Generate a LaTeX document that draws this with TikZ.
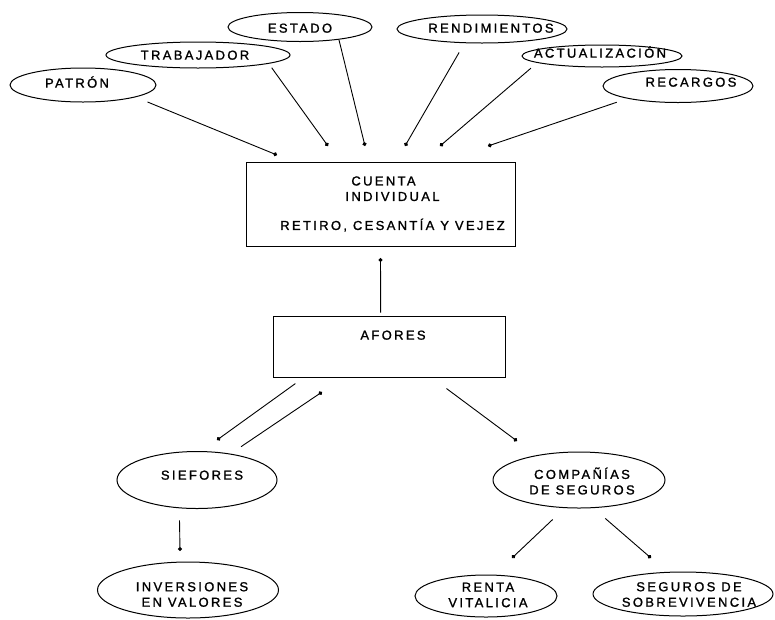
\documentclass[tikz,border=0pt]{standalone}
\usepackage{fontspec}
\setmainfont{Liberation Sans}
\newfontfamily\spaced{Liberation Sans}[LetterSpace=18,FakeBold=1.3]
\usetikzlibrary{shapes.geometric,arrows.meta,calc}
\begin{document}
\begin{tikzpicture}[x=1pt,y=-1pt,
  oval/.style={ellipse,draw,line width=1pt,inner sep=0pt},
  box/.style={rectangle,draw,line width=1pt,inner sep=0pt},
  one/.style={font=\spaced\fontsize{13}{15.5}\selectfont,inner sep=0pt,text height=9.3pt,text depth=0pt},
  two/.style={font=\spaced\fontsize{13}{15.5}\selectfont,inner sep=0pt,align=center},
  arr/.style={line width=0.9pt,-{Circle[length=4pt]}}
]
\useasboundingbox (0,0) rectangle (775,619);

% top ellipses
\node[oval,minimum width=146pt,minimum height=34pt,label={[one,xshift=-6pt,yshift=2pt]center:PATRÓN}] (patron) at (83,85) {};
\node[oval,minimum width=184pt,minimum height=26pt,label={[one,xshift=-3pt]center:TRABAJADOR}] (trab) at (198,55) {};
\node[oval,minimum width=144pt,minimum height=29pt,label={[one,yshift=-1pt]center:ESTADO}] (estado) at (300,27) {};
\node[oval,minimum width=170pt,minimum height=28pt,label={[one,xshift=9pt,yshift=1pt]center:RENDIMIENTOS}] (rend) at (482,29) {};
\node[oval,minimum width=160pt,minimum height=22pt,label={[one,xshift=-2pt,yshift=3pt]center:ACTUALIZACIÓN}] (actual) at (602,56) {};
\node[oval,minimum width=150pt,minimum height=33pt,label={[one,xshift=13pt,yshift=4pt]center:RECARGOS}] (recargos) at (678,86) {};

% boxes
\node[box,minimum width=269pt,minimum height=84pt,
  label={[two,xshift=12pt]center:CUENTA\hspace*{18pt}\\INDIVIDUAL\hspace*{14pt}\\[13.5pt]RETIRO, CESANTÍA Y VEJEZ}] (cuenta) at (380.5,204) {};
\node[box,minimum width=232pt,minimum height=61pt,label={[one,xshift=4pt,yshift=11.5pt]center:AFORES}] (afores) at (389,346.5) {};

% lower ellipses
\node[oval,minimum width=160pt,minimum height=57pt,label={[one,xshift=5pt,yshift=5pt]center:SIEFORES}] (siefores) at (197,480) {};
\node[oval,minimum width=172pt,minimum height=56pt,label={[two,xshift=3pt,yshift=-1pt]center:COMPAÑÍAS\\DE SEGUROS}] (companias) at (579,480) {};
\node[oval,minimum width=181pt,minimum height=56pt,label={[two,xshift=4pt,yshift=-4.5pt]center:INVERSIONES\\EN VALORES}] (inversiones) at (188,590) {};
\node[oval,minimum width=142pt,minimum height=42pt,label={[two,xshift=2pt,yshift=1pt]center:RENTA\\VITALICIA}] (renta) at (486,596) {};
\node[oval,minimum width=180pt,minimum height=44pt,label={[two,xshift=6pt,yshift=-0.5pt]center:SEGUROS DE\\SOBREVIVENCIA}] (seguros) at (683,594) {};

% arrow ends
\coordinate (d1) at (277,155);
\coordinate (d2) at (328,146);
\coordinate (d3) at (365,146);
\coordinate (d4) at (405,146);
\coordinate (d5) at (440,146);
\coordinate (d6) at (488,146);
\coordinate (d7) at (380.5,258);
\coordinate (d8) at (217,440);
\coordinate (d9) at (322,392);
\coordinate (d10) at (517,441);
\coordinate (d11) at (180,551);
\coordinate (d12) at (512,558);
\coordinate (d13) at (651,558);

% connectors
\draw[arr,shorten <=12.6pt] (patron.-13.7) -- (d1);
\draw[arr,shorten <=5pt] (trab.-7.8) -- (d2);
\draw[arr] (estado.-18) -- (d3);
\draw[arr,shorten <=10.7pt] (rend.219.7) -- (d4);
\draw[arr,shorten <=8.2pt] (actual.186) -- (d5);
\draw[arr,shorten <=11.2pt] (recargos.194.1) -- (d6);
\draw[arr,shorten <=3pt] (afores.105.6) -- (d7);
\draw[arr,shorten <=10.4pt] (afores.200.3) -- (d8);
\draw[arr,shorten <=12.5pt] (siefores.38.6) -- (d9);
\draw[arr,shorten <=18.5pt] (afores.-36.6) -- (d10);
\draw[arr,shorten <=12pt] (siefores.238.6) -- (d11);
\draw[arr,shorten <=16.5pt] (companias.243) -- (d12);
\draw[arr,shorten <=15.8pt] (companias.-63) -- (d13);
\end{tikzpicture}
\end{document}
